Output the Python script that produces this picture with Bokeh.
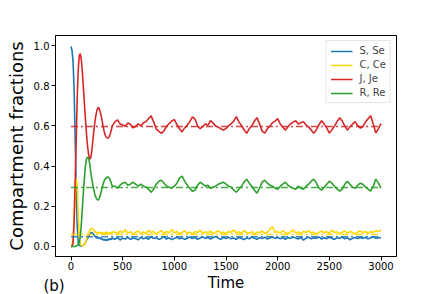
import math
from bokeh.plotting import figure
from bokeh.models import Range1d, FixedTicker, Label, Legend, LegendItem
from bokeh.embed import file_html
from bokeh.resources import INLINE

# ---------------- data ----------------
t_early = list(range(0, 401, 10))      # sampling grid of the transient
t_late = list(range(425, 3001, 25))    # sampling grid after the transient
time = t_early + t_late

S_early = [0.995, 0.975, 0.92, 0.78, 0.55, 0.3, 0.1, 0.02, 0.005, 0.003,
           0.003, 0.004, 0.006, 0.01, 0.02, 0.03, 0.04, 0.05, 0.06, 0.066,
           0.07, 0.066, 0.06, 0.052, 0.046, 0.042, 0.046, 0.04, 0.044, 0.036,
           0.04, 0.031, 0.036, 0.03, 0.035, 0.029, 0.038, 0.033, 0.04, 0.034,
           0.042]
S_late = [0.036, 0.044, 0.032, 0.041, 0.037, 0.046, 0.035, 0.042,
          0.039, 0.033, 0.045, 0.038, 0.043, 0.036, 0.047, 0.04,
          0.044, 0.035, 0.041, 0.048, 0.037, 0.043, 0.034, 0.04,
          0.046, 0.038, 0.043, 0.035, 0.041, 0.047, 0.039, 0.044,
          0.036, 0.042, 0.048, 0.04, 0.045, 0.037, 0.043, 0.05,
          0.041, 0.036, 0.044, 0.039, 0.046, 0.038, 0.042, 0.035,
          0.045, 0.04, 0.034, 0.043, 0.038, 0.047, 0.041, 0.036,
          0.044, 0.039, 0.046, 0.037, 0.042, 0.048, 0.04, 0.045,
          0.038, 0.043, 0.036, 0.044, 0.04, 0.047, 0.042, 0.037,
          0.045, 0.031, 0.041, 0.046, 0.038, 0.044, 0.04, 0.048,
          0.037, 0.043, 0.039, 0.046, 0.041, 0.035, 0.044, 0.04,
          0.047, 0.038, 0.043, 0.033, 0.04, 0.045, 0.039, 0.044,
          0.041, 0.046, 0.038, 0.043, 0.048, 0.04, 0.045, 0.042]

C_early = [0.0, 0.005, 0.04, 0.14, 0.27, 0.34, 0.3, 0.16, 0.05, 0.015,
           0.005, 0.003, 0.005, 0.01, 0.02, 0.035, 0.05, 0.065, 0.078, 0.087,
           0.09, 0.086, 0.08, 0.076, 0.07, 0.066, 0.072, 0.064, 0.07, 0.065,
           0.071, 0.062, 0.068, 0.064, 0.073, 0.066, 0.07, 0.061, 0.069, 0.065,
           0.072]
C_late = [0.072, 0.064, 0.078, 0.068, 0.083, 0.066, 0.074, 0.062,
          0.07, 0.077, 0.063, 0.072, 0.066, 0.08, 0.069, 0.074,
          0.061, 0.071, 0.079, 0.065, 0.073, 0.068, 0.084, 0.067,
          0.075, 0.063, 0.07, 0.078, 0.066, 0.072, 0.06, 0.074,
          0.069, 0.081, 0.065, 0.073, 0.068, 0.076, 0.064, 0.071,
          0.078, 0.066, 0.072, 0.062, 0.075, 0.069, 0.083, 0.067,
          0.073, 0.064, 0.079, 0.07, 0.066, 0.074, 0.061, 0.072,
          0.068, 0.077, 0.065, 0.071, 0.086, 0.098, 0.07, 0.074,
          0.066, 0.078, 0.069, 0.063, 0.074, 0.082, 0.067, 0.072,
          0.064, 0.075, 0.07, 0.079, 0.066, 0.072, 0.061, 0.07,
          0.077, 0.068, 0.074, 0.065, 0.081, 0.069, 0.073, 0.063,
          0.071, 0.078, 0.066, 0.074, 0.069, 0.062, 0.072, 0.077,
          0.068, 0.075, 0.065, 0.073, 0.07, 0.079, 0.074, 0.082]

J_early = [0.0, 0.0, 0.02, 0.12, 0.32, 0.52, 0.74, 0.88, 0.95, 0.96,
           0.93, 0.87, 0.79, 0.71, 0.63, 0.56, 0.5, 0.46, 0.435, 0.44,
           0.47, 0.52, 0.57, 0.615, 0.65, 0.675, 0.69, 0.69, 0.675, 0.655,
           0.63, 0.6, 0.575, 0.555, 0.545, 0.54, 0.54, 0.545, 0.56, 0.58,
           0.6]
J_late = [0.62, 0.63, 0.61, 0.605, 0.598, 0.615, 0.608, 0.59,
          0.597, 0.61, 0.6, 0.615, 0.622, 0.636, 0.65, 0.62,
          0.585, 0.573, 0.563, 0.576, 0.598, 0.612, 0.624, 0.632,
          0.606, 0.586, 0.57, 0.59, 0.604, 0.621, 0.645, 0.634,
          0.6, 0.586, 0.596, 0.61, 0.603, 0.626, 0.614, 0.6,
          0.594, 0.586, 0.579, 0.587, 0.6, 0.611, 0.624, 0.646,
          0.62, 0.601, 0.581, 0.563, 0.586, 0.601, 0.624, 0.641,
          0.61, 0.574, 0.564, 0.586, 0.599, 0.616, 0.624, 0.636,
          0.61, 0.594, 0.579, 0.596, 0.611, 0.619, 0.626, 0.609,
          0.616, 0.621, 0.604, 0.594, 0.579, 0.563, 0.581, 0.606,
          0.626, 0.609, 0.59, 0.564, 0.581, 0.599, 0.621, 0.641,
          0.624, 0.599, 0.579, 0.596, 0.609, 0.621, 0.601, 0.589,
          0.596, 0.619, 0.636, 0.651, 0.609, 0.565, 0.586, 0.611]

R_early = [0.0, 0.0, 0.0, 0.0, 0.0, 0.002, 0.005, 0.01, 0.02, 0.05,
           0.11, 0.19, 0.27, 0.34, 0.40, 0.435, 0.445, 0.44, 0.415, 0.375,
           0.34, 0.31, 0.285, 0.26, 0.245, 0.235, 0.23, 0.235, 0.25, 0.27,
           0.29, 0.31, 0.325, 0.335, 0.34, 0.345, 0.345, 0.34, 0.33, 0.315,
           0.30]
R_late = [0.30, 0.29, 0.305, 0.315, 0.32, 0.305, 0.31, 0.32,
          0.31, 0.30, 0.31, 0.30, 0.295, 0.285, 0.27, 0.285,
          0.31, 0.325, 0.33, 0.315, 0.30, 0.295, 0.29, 0.30,
          0.315, 0.34, 0.35, 0.325, 0.305, 0.29, 0.275, 0.28,
          0.305, 0.32, 0.31, 0.30, 0.305, 0.29, 0.295, 0.30,
          0.31, 0.315, 0.32, 0.31, 0.30, 0.295, 0.28, 0.27,
          0.285, 0.30, 0.32, 0.335, 0.315, 0.30, 0.28, 0.265,
          0.29, 0.32, 0.33, 0.315, 0.305, 0.30, 0.29, 0.285,
          0.30, 0.31, 0.32, 0.305, 0.295, 0.29, 0.285, 0.30,
          0.29, 0.285, 0.30, 0.31, 0.325, 0.335, 0.315, 0.29,
          0.28, 0.295, 0.31, 0.325, 0.315, 0.30, 0.285, 0.275,
          0.285, 0.31, 0.325, 0.31, 0.295, 0.29, 0.305, 0.315,
          0.31, 0.295, 0.285, 0.275, 0.30, 0.335, 0.315, 0.29]

series_names = ["S, Se", "C, Ce", "J, Je", "R, Re"]
series_values = [S_early + S_late, C_early + C_late, J_early + J_late, R_early + R_late]
equilibrium = [0.048, 0.06, 0.597, 0.293]
colors = ["#1f77b4", "#ffd700", "#d62728", "#2ca02c"]

x_ticks = [0, 500, 1000, 1500, 2000, 2500, 3000]
y_ticks = [0.0, 0.2, 0.4, 0.6, 0.8, 1.0]
y_tick_labels = ["0.0", "0.2", "0.4", "0.6", "0.8", "1.0"]
x_label = "Time"
y_label = "Compartment fractions"
panel_tag = "(b)"

# ---------------- figure ----------------
FONT = "DejaVu Sans"
p = figure(width=440, height=294, output_backend="svg", toolbar_location=None,
           x_range=Range1d(-150, 3150), y_range=Range1d(-0.05, 1.05),
           min_border_left=55, min_border_right=44, min_border_top=35, min_border_bottom=37)
p.grid.visible = False
p.outline_line_color = "black"
p.outline_line_width = 1
p.background_fill_color = "white"
p.border_fill_color = "white"

for ax in (p.xaxis[0], p.yaxis[0]):
    ax.axis_line_color = "black"
    ax.major_tick_line_color = "black"
    ax.major_tick_out = 4
    ax.major_tick_in = 0
    ax.minor_tick_line_color = None
    ax.major_label_text_font = FONT
    ax.major_label_text_font_size = "10px"
    ax.major_label_text_color = "black"
    ax.major_label_standoff = 2
    ax.axis_label_text_font = FONT
    ax.axis_label_text_font_style = "normal"
    ax.axis_label_text_color = "black"

p.xaxis.axis_label = x_label
p.xaxis.axis_label_text_font_size = "15px"
p.xaxis.major_label_standoff = 1
p.xaxis.axis_label_standoff = 1
p.yaxis.axis_label = y_label
p.yaxis.axis_label_text_font_size = "18px"
p.yaxis.axis_label_standoff = 4

p.xaxis.ticker = FixedTicker(ticks=x_ticks)
p.yaxis.ticker = FixedTicker(ticks=y_ticks)
p.yaxis.major_label_overrides = {v: s for v, s in zip(y_ticks, y_tick_labels)}

items = []
for name, vals, col in zip(series_names, series_values, colors):
    r = p.line(time, vals, line_color=col, line_width=1.6)
    items.append(LegendItem(label=name, renderers=[r]))

for eq, col in zip(equilibrium, colors):
    p.line([time[0], time[-1]], [eq, eq], line_color=col, line_width=1.5,
           line_dash="7 3 2 3", line_alpha=0.85)

legend = Legend(items=items, location="top_right", margin=5, padding=4, spacing=3,
                glyph_width=22, glyph_height=10, label_height=10, label_standoff=7,
                label_text_font=FONT, label_text_font_size="10px",
                border_line_color="#cccccc", border_line_width=1,
                background_fill_alpha=0.8)
p.add_layout(legend, "center")

p.add_layout(Label(x=43, y=285, x_units="canvas", y_units="canvas", text=panel_tag,
                   text_font=FONT, text_font_size="15px", text_align="left",
                   text_baseline="alphabetic", text_color="black"), "right")

open("out.html", "w").write(file_html(p, INLINE))
